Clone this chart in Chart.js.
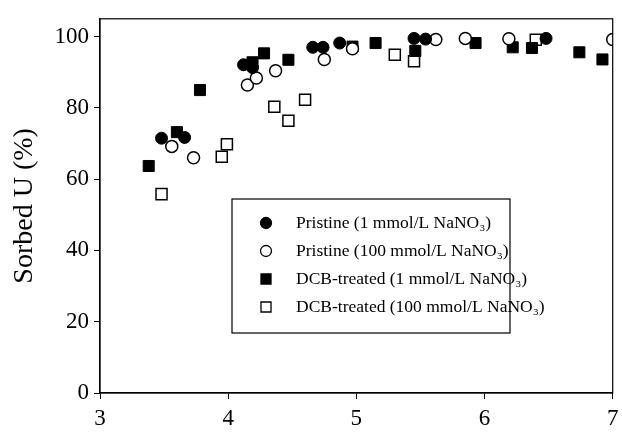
<!DOCTYPE html>
<html>
<head>
<meta charset="utf-8">
<script src="https://cdn.jsdelivr.net/npm/chart.js@4.4.1/dist/chart.umd.min.js"></script>
<style>
html,body{margin:0;padding:0;background:#fff;}
#wrap{width:622px;height:432px;}
</style>
</head>
<body>
<div id="wrap"><canvas id="sorption"></canvas></div>
<script>

// series: x = pH, y = sorbed U (%)
const pristine1X = [3.48, 3.66, 4.12, 4.19, 4.66, 4.74, 4.87, 5.45, 5.54, 6.48];
const pristine1Y = [71.5, 71.7, 92.1, 91.3, 97.0, 97.0, 98.2, 99.5, 99.3, 99.5];

const pristine100X = [3.56, 3.73, 4.15, 4.22, 4.37, 4.75, 4.97, 5.62, 5.85, 6.19, 7.0];
const pristine100Y = [69.2, 66.0, 86.4, 88.4, 90.4, 93.6, 96.6, 99.2, 99.5, 99.4, 99.2];

const dcb1X = [3.38, 3.60, 3.78, 4.19, 4.28, 4.47, 4.97, 5.15, 5.46, 5.93, 6.22, 6.37, 6.74, 6.92];
const dcb1Y = [63.7, 73.2, 85.0, 92.8, 95.3, 93.5, 97.2, 98.2, 96.0, 98.2, 97.0, 96.8, 95.6, 93.6];

const dcb100X = [3.48, 3.95, 3.99, 4.36, 4.47, 4.60, 5.30, 5.45, 6.40];
const dcb100Y = [55.8, 66.3, 69.8, 80.3, 76.4, 82.3, 94.9, 93.1, 99.1];

const seriesNames = [
"Pristine (1 mmol/L NaNO₃)",
"Pristine (100 mmol/L NaNO₃)",
"DCB-treated (1 mmol/L NaNO₃)",
"DCB-treated (100 mmol/L NaNO₃)"
];

const xTicks = [3, 4, 5, 6, 7];
const yTicks = [0, 20, 40, 60, 80, 100];

const serif = "'Liberation Serif', 'Times New Roman', serif";

function toPoints(xs, ys){
return xs.map((x, i) => ({x: x, y: ys[i]}));
}


// frame around the plot (top and right edges)
const boxPlugin = {
id: "box",
afterDraw(chart){
const a = chart.chartArea;
const ctx = chart.ctx;
ctx.save();
ctx.strokeStyle = "#000";
ctx.lineWidth = 1.2;
ctx.strokeRect(a.left, a.top, a.right - a.left, a.bottom - a.top);
ctx.restore();
}
};


// legend drawn inside the plot, like the original figure
const insideLegend = {
id: "insideLegend",
afterDraw(chart){
const a = chart.chartArea;
const ctx = chart.ctx;
const left = a.left + 132;
const top = 199;
const w = 278;
const h = 134;

ctx.save();
ctx.fillStyle = "#fff";
ctx.fillRect(left, top, w, h);
ctx.strokeStyle = "#000";
ctx.lineWidth = 1.2;
ctx.strokeRect(left, top, w, h);

ctx.font = "17.5px " + serif;
ctx.textBaseline = "middle";

chart.data.datasets.forEach((ds, i) => {
const y = top + 24 + i * 28;
const mx = left + 34;
ctx.fillStyle = ds.backgroundColor;
ctx.strokeStyle = "#000";
ctx.lineWidth = 1.3;
ctx.beginPath();
if(ds.pointStyle === "circle"){
ctx.arc(mx, y, 5.5, 0, Math.PI * 2);
}
else{
ctx.rect(mx - 5, y - 5, 10, 10);
}
ctx.fill();
ctx.stroke();

ctx.fillStyle = "#000";
ctx.fillText(ds.label, left + 64, y);
});

ctx.restore();
}
};


const chart =
new Chart(
document.getElementById("sorption"),
{

type: "scatter",

data: {
datasets: [
{
label: seriesNames[0],
data: toPoints(pristine1X, pristine1Y),
pointStyle: "circle",
pointRadius: 6,
backgroundColor: "#000",
borderColor: "#000",
borderWidth: 1
},
{
label: seriesNames[1],
data: toPoints(pristine100X, pristine100Y),
pointStyle: "circle",
pointRadius: 6,
backgroundColor: "#fff",
borderColor: "#000",
borderWidth: 1.5
},
{
label: seriesNames[2],
data: toPoints(dcb1X, dcb1Y),
pointStyle: "rect",
pointRadius: 7.8,
backgroundColor: "#000",
borderColor: "#000",
borderWidth: 1
},
{
label: seriesNames[3],
data: toPoints(dcb100X, dcb100Y),
pointStyle: "rect",
pointRadius: 7.8,
backgroundColor: "#fff",
borderColor: "#000",
borderWidth: 1.5
}
]
},

options: {
responsive: true,
maintainAspectRatio: false,
animation: false,
layout: {
padding: {left: 0, right: 5, top: 10, bottom: 0}
},
plugins: {
legend: {display: false},
tooltip: {enabled: false}
},
scales: {
x: {
type: "linear",
min: 3,
max: 7,
afterBuildTicks(scale){
scale.ticks = xTicks.map(v => ({value: v}));
},
afterFit(scale){
scale.height = 39;
// the "7" label may hang past the plot edge, as in the original
scale.paddingRight = 0;
},
grid: {
drawOnChartArea: false,
drawTicks: true,
tickLength: 6,
color: "#000"
},
border: {display: true, color: "#000", width: 1.2},
ticks: {
color: "#000",
padding: 6,
font: {family: serif, size: 23}
}
},
y: {
type: "linear",
min: 0,
max: 105,
afterBuildTicks(scale){
scale.ticks = yTicks.map(v => ({value: v}));
},
afterFit(scale){
scale.width = 100;
},
grid: {
drawOnChartArea: false,
drawTicks: true,
tickLength: 6,
color: "#000"
},
border: {display: true, color: "#000", width: 1.2},
ticks: {
color: "#000",
padding: 5,
font: {family: serif, size: 23}
},
title: {
display: true,
text: "Sorbed U (%)",
color: "#000",
padding: {top: 8, bottom: 0},
font: {family: serif, size: 28}
}
}
}
},

plugins: [boxPlugin, insideLegend]

});

</script>
</body>
</html>
